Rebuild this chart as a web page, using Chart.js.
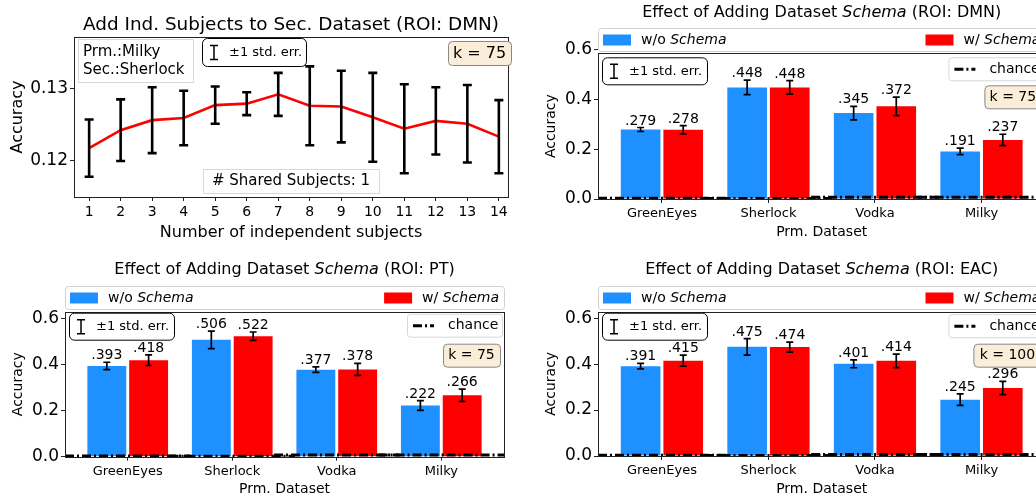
<!DOCTYPE html>
<html>
<head>
<meta charset="utf-8">
<script src="https://cdn.jsdelivr.net/npm/chart.js@4.4.1/dist/chart.umd.min.js"></script>
<style>
  html, body { margin: 0; padding: 0; background: #fff; }
  body { position: relative; width: 1036px; height: 498px; overflow: hidden; }
  canvas { position: absolute; }
</style>
</head>
<body>
<canvas id="addSubjects" width="530" height="250" style="left:0;top:0"></canvas>
<canvas id="dmnChart" width="530" height="250" style="left:530px;top:0"></canvas>
<canvas id="ptChart" width="530" height="248" style="left:0;top:250px"></canvas>
<canvas id="eacChart" width="530" height="248" style="left:530px;top:250px"></canvas>
<script>
// top-left: adding independent subjects
const subjectCounts = [1, 2, 3, 4, 5, 6, 7, 8, 9, 10, 11, 12, 13, 14];
const addSubjAcc = [0.1217, 0.1242, 0.1256, 0.1259, 0.1277, 0.1279, 0.1292, 0.1276, 0.1275, 0.1260, 0.1244, 0.1255, 0.1251, 0.1233];
const addSubjErr = [0.0040, 0.0043, 0.0046, 0.0038, 0.0026, 0.0016, 0.0030, 0.0055, 0.0050, 0.0062, 0.0062, 0.0047, 0.0054, 0.0051];
const addSubjTicks = [0.12, 0.13];

// bar panels
const primDatasets = ['GreenEyes', 'Sherlock', 'Vodka', 'Milky'];
const dmnWithout = [0.279, 0.448, 0.345, 0.191];
const dmnWithoutErr = [0.008, 0.029, 0.027, 0.013];
const dmnWith = [0.278, 0.448, 0.372, 0.237];
const dmnWithErr = [0.017, 0.027, 0.037, 0.023];
const ptWithout = [0.393, 0.506, 0.377, 0.222];
const ptWithoutErr = [0.016, 0.038, 0.012, 0.021];
const ptWith = [0.418, 0.522, 0.378, 0.266];
const ptWithErr = [0.023, 0.018, 0.026, 0.027];
const eacWithout = [0.391, 0.475, 0.401, 0.245];
const eacWithoutErr = [0.012, 0.036, 0.017, 0.025];
const eacWith = [0.415, 0.474, 0.414, 0.296];
const eacWithErr = [0.024, 0.022, 0.029, 0.029];
const chanceLevel = [0.003, 0.002, 0.007, 0.007];
const barTicks = [0, 0.2, 0.4, 0.6];

const FONT = "'DejaVu Sans', sans-serif";
const BLUE = '#1e90ff';
const RED = '#ff0000';

Chart.defaults.font.family = FONT;
Chart.defaults.color = '#000';

// extra drawing settings per canvas (kept outside chart options so Chart.js doesn't resolve them)
const decorSettings = {};

function fmtBar(v) {
    return v.toFixed(3).replace(/^0/, '');
}

function richWidth(ctx, parts, size) {
    let w = 0;
    parts.forEach(p => {
        ctx.font = (p[1] ? 'italic ' : '') + size + 'px ' + FONT;
        w += ctx.measureText(p[0]).width;
    });
    return w;
}

// draw text made of [text, italic] parts
function drawRich(ctx, parts, x, y, size, align) {
    const w = richWidth(ctx, parts, size);
    let cx = align === 'center' ? x - w / 2 : (align === 'right' ? x - w : x);
    ctx.textAlign = 'left';
    ctx.textBaseline = 'middle';
    ctx.fillStyle = '#000';
    parts.forEach(p => {
        ctx.font = (p[1] ? 'italic ' : '') + size + 'px ' + FONT;
        ctx.fillText(p[0], cx, y);
        cx += ctx.measureText(p[0]).width;
    });
}

function drawBox(ctx, b) {
    ctx.save();
    ctx.beginPath();
    ctx.roundRect(b.x + 0.5, b.y + 0.5, b.w, b.h, b.r || 0);
    ctx.fillStyle = b.fill || 'rgba(255,255,255,0.85)';
    ctx.fill();
    ctx.lineWidth = 1;
    ctx.strokeStyle = b.stroke || '#cccccc';
    ctx.stroke();
    const cy = b.y + b.h / 2 + 0.5;
    if (b.kind === 'stderr') {
        const cx = b.x + 12;
        ctx.strokeStyle = '#000';
        ctx.lineWidth = 1.5;
        ctx.beginPath();
        ctx.moveTo(cx, cy - 7); ctx.lineTo(cx, cy + 7);
        ctx.moveTo(cx - 4, cy - 7); ctx.lineTo(cx + 4, cy - 7);
        ctx.moveTo(cx - 4, cy + 7); ctx.lineTo(cx + 4, cy + 7);
        ctx.stroke();
        drawRich(ctx, [['±1 std. err.', false]], b.x + 27, cy, 13, 'left');
    } else if (b.kind === 'chance') {
        ctx.strokeStyle = '#000';
        ctx.lineWidth = 3;
        ctx.setLineDash([9, 3, 2, 3]);
        ctx.beginPath();
        ctx.moveTo(b.x + 6, cy); ctx.lineTo(b.x + 27, cy);
        ctx.stroke();
        ctx.setLineDash([]);
        drawRich(ctx, [['chance', false]], b.x + 41, cy, 14, 'left');
    } else if (b.lines) {
        b.lines.forEach((t, i) => drawRich(ctx, [[t, false]], b.x + 5, b.y + 13 + i * 18, b.size, 'left'));
    } else if (b.text) {
        drawRich(ctx, [[b.text, false]], b.x + b.w / 2, cy, b.size, 'center');
    }
    ctx.restore();
}

const decor = {
    id: 'decor',
    afterDatasetsDraw(chart) {
        const opts = decorSettings[chart.canvas.id];
        const ctx = chart.ctx;
        const xs = chart.scales.x, ys = chart.scales.y;
        ctx.save();
        if (opts.chance) {
            ctx.strokeStyle = '#000';
            ctx.lineWidth = 3;
            ctx.setLineDash([9, 3, 2, 3]);
            opts.chance.forEach((c, i) => {
                const py = ys.getPixelForValue(c);
                ctx.beginPath();
                ctx.moveTo(xs.getPixelForValue(i - 0.6), py);
                ctx.lineTo(xs.getPixelForValue(i + 0.6), py);
                ctx.stroke();
            });
            ctx.setLineDash([]);
        }
        chart.data.datasets.forEach((ds, di) => {
            if (!ds.errors) return;
            chart.getDatasetMeta(di).data.forEach((el, i) => {
                const v = ds.data[i].y, e = ds.errors[i];
                const top = ys.getPixelForValue(v + e), bot = ys.getPixelForValue(v - e);
                ctx.strokeStyle = '#000';
                ctx.lineWidth = opts.errWidth;
                ctx.beginPath();
                ctx.moveTo(el.x, top); ctx.lineTo(el.x, bot);
                ctx.moveTo(el.x - opts.cap, top); ctx.lineTo(el.x + opts.cap, top);
                ctx.moveTo(el.x - opts.cap, bot); ctx.lineTo(el.x + opts.cap, bot);
                ctx.stroke();
                if (opts.valueLabels) {
                    ctx.fillStyle = '#000';
                    ctx.font = '14px ' + FONT;
                    ctx.textAlign = 'center';
                    ctx.textBaseline = 'alphabetic';
                    ctx.fillText(fmtBar(v), el.x, top - 3);
                }
            });
        });
        ctx.restore();
    },
    afterDraw(chart) {
        const opts = decorSettings[chart.canvas.id];
        const ctx = chart.ctx, a = chart.chartArea;
        ctx.save();
        // axes frame on all four sides
        ctx.strokeStyle = '#222';
        ctx.lineWidth = 1;
        const l = Math.round(a.left) + 0.5, t = Math.round(a.top) + 0.5;
        ctx.strokeRect(l, t, Math.round(a.right) - Math.round(a.left), Math.round(a.bottom) - Math.round(a.top));
        if (opts.title) {
            drawRich(ctx, opts.title, (a.left + a.right) / 2, opts.titleY, opts.titleSize, 'center');
        }
        // legend strip above the axes
        if (opts.legend) {
            const lg = opts.legend;
            drawBox(ctx, { x: a.left, y: lg.y, w: a.right - a.left, h: lg.h, r: 3, stroke: '#d0d0d0', fill: '#fff' });
            const cy = lg.y + lg.h / 2 + 0.5;
            ctx.fillStyle = BLUE;
            ctx.fillRect(a.left + 5, cy - 5.5, 28, 11);
            drawRich(ctx, [['w/o ', false], ['Schema', true]], a.left + 43, cy, 14, 'left');
            const rParts = [['w/ ', false], ['Schema', true]];
            const tx = a.right - 5 - richWidth(ctx, rParts, 14);
            ctx.fillStyle = RED;
            ctx.fillRect(tx - 38, cy - 5.5, 28, 11);
            drawRich(ctx, rParts, tx, cy, 14, 'left');
        }
        (opts.boxes || []).forEach(b => drawBox(ctx, b));
        ctx.restore();
    }
};

// fixed-size axes so the plot areas line up with the figure
function fixedX(height, ticks, fmt, tickSize, title, titleSize, titlePad) {
    return {
        afterFit: s => { s.height = height; },
        afterBuildTicks: s => { s.ticks = ticks.map(v => ({ value: v })); },
        grid: { drawOnChartArea: false, tickLength: 4, tickColor: '#222', offset: false },
        border: { display: false },
        offset: false,
        ticks: { callback: fmt, font: { size: tickSize }, padding: 3, autoSkip: false, maxRotation: 0 },
        title: { display: true, text: title, font: { size: titleSize }, padding: { top: 0, bottom: titlePad } }
    };
}

function fixedY(width, ticks, fmt, tickSize, titleSize, titlePad) {
    return {
        afterFit: s => { s.width = width; },
        afterBuildTicks: s => { s.ticks = ticks.map(v => ({ value: v })); },
        grid: { drawOnChartArea: false, tickLength: 4, tickColor: '#222' },
        border: { display: false },
        ticks: { callback: fmt, font: { size: tickSize }, padding: 2 },
        title: { display: true, text: 'Accuracy', font: { size: titleSize }, padding: { top: titlePad, bottom: 0 } }
    };
}

// top-left line chart
decorSettings.addSubjects = {
    errWidth: 2.6,
    cap: 4.5,
    title: [['Add Ind. Subjects to Sec. Dataset (ROI: DMN)', false]],
    titleY: 25,
    titleSize: 18.4,
    boxes: [
        { x: 78, y: 39, w: 115, h: 43, stroke: '#d8d8d8', fill: 'rgba(255,255,255,0.85)', lines: ['Prm.:Milky', 'Sec.:Sherlock'], size: 15 },
        { x: 202, y: 38, w: 104, h: 28, r: 5, stroke: '#000', fill: '#fff', kind: 'stderr' },
        { x: 448, y: 41, w: 63, h: 24, r: 4, stroke: '#888', fill: '#faeed9', text: 'k = 75', size: 16 },
        { x: 203, y: 169, w: 176, h: 24, stroke: '#d8d8d8', fill: 'rgba(255,255,255,0.85)', text: '# Shared Subjects: 1', size: 15 }
    ]
};

new Chart(document.getElementById('addSubjects'), {
    type: 'line',
    data: {
        datasets: [{
            data: subjectCounts.map((s, i) => ({ x: s, y: addSubjAcc[i] })),
            errors: addSubjErr,
            borderColor: RED,
            borderWidth: 2.6,
            pointRadius: 0,
            tension: 0,
            fill: false
        }]
    },
    options: {
        responsive: false,
        animation: false,
        devicePixelRatio: 1,
        layout: { padding: { left: 0, top: 37, right: 22, bottom: 0 } },
        plugins: { legend: { display: false }, tooltip: { enabled: false } },
        scales: {
            x: Object.assign(fixedX(53, subjectCounts, v => v, 14, 'Number of independent subjects', 16, 8), {
                type: 'linear', min: 0.52, max: 14.29
            }),
            y: Object.assign(fixedY(74, addSubjTicks, v => v.toFixed(2), 17, 16, 8.7), {
                type: 'linear', min: 0.11488, max: 0.1372
            })
        }
    },
    plugins: [decor]
});

function barPanel(id, roi, without, withoutErr, withS, withErr, k, geo) {
    decorSettings[id] = {
        errWidth: 1.7,
        cap: 3.5,
        valueLabels: true,
        chance: chanceLevel,
        title: [['Effect of Adding Dataset ', false], ['Schema', true], [' (ROI: ' + roi + ')', false]],
        titleY: geo.titleY,
        titleSize: 16,
        legend: { y: geo.legendY, h: 23 },
        boxes: [
            { x: geo.left + 4, y: geo.top + geo.errDy, w: 105, h: 27, r: 5, stroke: '#000', fill: '#fff', kind: 'stderr' },
            { x: geo.left + geo.width - 97, y: geo.top + geo.chDy, w: 95, h: 23, r: 3, stroke: '#d8d8d8', fill: '#fff', kind: 'chance' },
            { x: geo.left + geo.width - 4 - geo.kW, y: geo.top + 32, w: geo.kW, h: 23, r: 4, stroke: '#888', fill: '#faeed9', text: 'k = ' + k, size: 14 }
        ]
    };
    return new Chart(document.getElementById(id), {
        type: 'bar',
        data: {
            datasets: [
                {
                    label: 'w/o Schema',
                    data: primDatasets.map((_, i) => ({ x: i, y: without[i] })),
                    errors: withoutErr,
                    backgroundColor: BLUE,
                    borderWidth: 0,
                    categoryPercentage: 0.8,
                    barPercentage: 0.93
                },
                {
                    label: 'w/ Schema',
                    data: primDatasets.map((_, i) => ({ x: i, y: withS[i] })),
                    errors: withErr,
                    backgroundColor: RED,
                    borderWidth: 0,
                    categoryPercentage: 0.8,
                    barPercentage: 0.93
                }
            ]
        },
        options: {
            responsive: false,
            animation: false,
            devicePixelRatio: 1,
            layout: { padding: { left: 0, top: geo.top, right: geo.right, bottom: 0 } },
            plugins: { legend: { display: false }, tooltip: { enabled: false } },
            scales: {
                x: Object.assign(fixedX(geo.xH, primDatasets.map((_, i) => i), v => primDatasets[v], 13, 'Prm. Dataset', 14, geo.xTitlePad), {
                    type: 'linear', min: -0.6, max: 3.6
                }),
                y: Object.assign(fixedY(geo.left, barTicks, v => v.toFixed(1), 17, 14, geo.yTitlePad), {
                    type: 'linear', min: 0, max: geo.yMax
                })
            }
        },
        plugins: [decor]
    });
}

barPanel('dmnChart', 'DMN', dmnWithout, dmnWithoutErr, dmnWith, dmnWithErr, 75,
    { left: 68, width: 447.4, top: 53.3, right: 14.6, xH: 51, xTitlePad: 9.6, yTitlePad: 12.9, yMax: 0.585,
      titleY: 13, legendY: 28, errDy: 4, chDy: 4, kW: 57 });
barPanel('ptChart', 'PT', ptWithout, ptWithoutErr, ptWith, ptWithErr, 75,
    { left: 65, width: 439, top: 61.7, right: 26, xH: 41.3, xTitlePad: 0.5, yTitlePad: 9.6, yMax: 0.628,
      titleY: 20, legendY: 36, errDy: 1, chDy: 2, kW: 57 });
barPanel('eacChart', 'EAC', eacWithout, eacWithoutErr, eacWith, eacWithErr, 100,
    { left: 68, width: 447.4, top: 61.7, right: 14.6, xH: 42, xTitlePad: 0.5, yTitlePad: 12.9, yMax: 0.628,
      titleY: 20, legendY: 36, errDy: 1, chDy: 2.5, kW: 68 });
</script>
</body>
</html>
